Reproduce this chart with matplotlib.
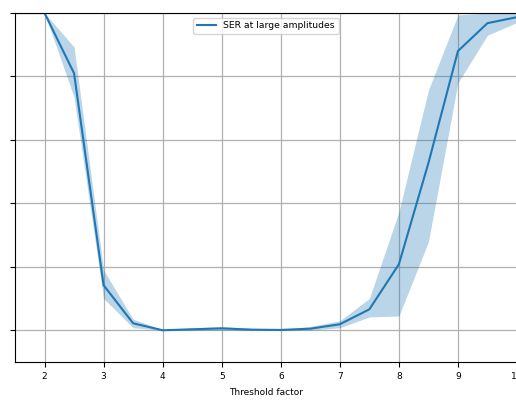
import numpy as np
import matplotlib
matplotlib.use("Agg")
import matplotlib.pyplot as plt

# Threshold factor sweep and symbol error rate statistics
threshold = [1.5, 2.0, 2.5, 3.0, 3.5, 4.0, 4.5, 5.0, 5.5, 6.0,
             6.5, 7.0, 7.5, 8.0, 8.5, 9.0, 9.5, 10.0]
ser_mean = [1.0, 1.0, 0.81, 0.142, 0.022, 0.0, 0.003, 0.006, 0.002, 0.001,
            0.005, 0.019, 0.066, 0.208, 0.527, 0.88, 0.968, 0.987]
ser_low = [1.0, 1.0, 0.735, 0.10, 0.008, 0.0, 0.0, 0.0, 0.0, 0.0,
           0.0, 0.008, 0.042, 0.045, 0.279, 0.78, 0.93, 0.97]
ser_high = [1.0, 1.0, 0.893, 0.19, 0.035, 0.002, 0.008, 0.012, 0.006, 0.003,
            0.012, 0.03, 0.10, 0.373, 0.757, 0.994, 1.0, 1.0]
xticks = [2, 3, 4, 5, 6, 7, 8, 9, 10]
yticks = [0.0, 0.2, 0.4, 0.6, 0.8, 1.0]

fig = plt.figure(figsize=(5.16, 4.04), dpi=100)
ax = fig.add_axes([15 / 516, 42 / 404, 502 / 516, 349 / 404])

ax.fill_between(threshold, ser_low, ser_high, color="C0", alpha=0.3, linewidth=0)
ax.plot(threshold, ser_mean, color="C0", linewidth=1.5, label="SER at large amplitudes")

ax.set_xlim(1.5, 10)
ax.set_ylim(-0.1, 1.0)
ax.set_xticks(xticks)
ax.set_xticklabels([str(t) for t in xticks])
ax.set_yticks(yticks)
ax.set_yticklabels([])
ax.tick_params(labelsize=6.5)
ax.grid(True, color="#b0b0b0", linewidth=0.9)
ax.set_axisbelow(True)
ax.set_xlabel("Threshold factor", fontsize=6.5, labelpad=5.5)
ax.legend(loc="upper center", fontsize=6.7, handlelength=2.0)

fig.savefig("out.png", dpi=100)
